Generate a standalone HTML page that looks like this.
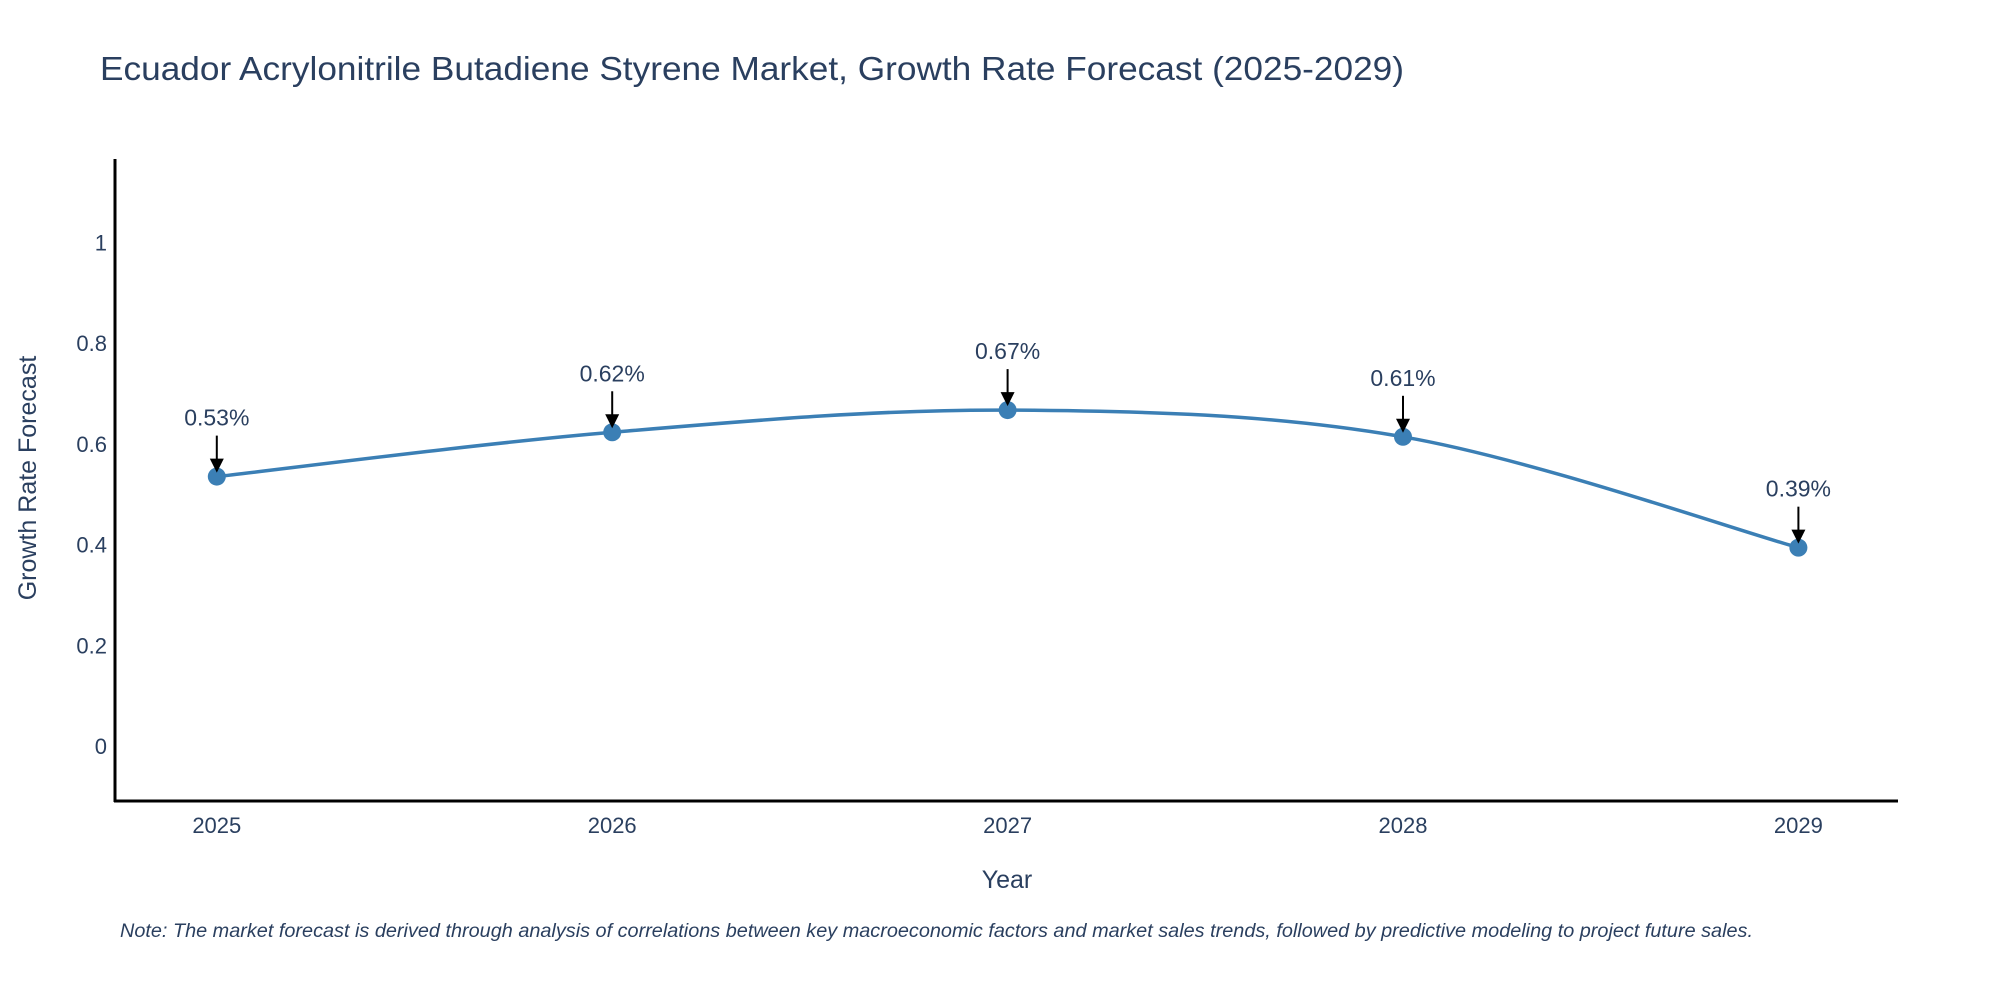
<!DOCTYPE html>
<html><head><meta charset="utf-8"><style>
html,body{margin:0;padding:0;background:#fff;}
svg{display:block;font-family:"Liberation Sans",sans-serif;}
</style></head><body>
<svg width="2000" height="1000" viewBox="0 0 2000 1000" id="chart">
<text x="100" y="80" font-size="33" fill="#2a3f5f" textLength="1304" lengthAdjust="spacingAndGlyphs">Ecuador Acrylonitrile Butadiene Styrene Market, Growth Rate Forecast (2025-2029)</text>
<g id="yticks"></g>
<g id="xticks"></g>
<path id="line" fill="none" stroke="#3b7fb5" stroke-width="3.5"/>
<g id="points"></g>
<g id="annots"></g>
<line x1="115" y1="159" x2="115" y2="802" stroke="#000" stroke-width="3"/>
<line x1="114" y1="801" x2="1898" y2="801" stroke="#000" stroke-width="3"/>
<text x="1007" y="888" font-size="25" fill="#2a3f5f" text-anchor="middle">Year</text>
<text transform="translate(36,478) rotate(-90)" font-size="25" fill="#2a3f5f" text-anchor="middle">Growth Rate Forecast</text>
<text x="120" y="937" font-size="19.5" font-style="italic" fill="#2a3f5f" textLength="1633" lengthAdjust="spacingAndGlyphs">Note: The market forecast is derived through analysis of correlations between key macroeconomic factors and market sales trends, followed by predictive modeling to project future sales.</text>
</svg>
<script>
const years = ["2025","2026","2027","2028","2029"];
const growth = [0.535, 0.623, 0.667, 0.614, 0.394];
const labels = ["0.53%","0.62%","0.67%","0.61%","0.39%"];
const yTicks = [0, 0.2, 0.4, 0.6, 0.8, 1];
const yTickLabels = ["0","0.2","0.4","0.6","0.8","1"];

const NS = "http://www.w3.org/2000/svg";
function xs(i){ return 216.8 + i * 395.4; }
function ys(v){ return 746.2 - v * 503.9; }
function mk(tag, attrs, parent){
  const e = document.createElementNS(NS, tag);
  for (const k in attrs) e.setAttribute(k, attrs[k]);
  parent.appendChild(e); return e;
}
const yt = document.getElementById('yticks');
yTicks.forEach((v,i)=>{
  const t = mk('text',{x:107,y:ys(v)+8,'font-size':22,fill:'#2a3f5f','text-anchor':'end'},yt);
  
  
  t.textContent = yTickLabels[i];
});
const xt = document.getElementById('xticks');
years.forEach((y,i)=>{
  const t = mk('text',{x:xs(i),y:833,'font-size':22,fill:'#2a3f5f','text-anchor':'middle'},xt);
  
  
  t.textContent = y;
});
// smooth line (Catmull-Rom)
const P = growth.map((v,i)=>[xs(i),ys(v)]);
let d = "M"+P[0][0]+","+P[0][1];
const tn = 0.5;
for (let i=0;i<P.length-1;i++){
  const p0=P[Math.max(0,i-1)], p1=P[i], p2=P[i+1], p3=P[Math.min(P.length-1,i+2)];
  const c1=[p1[0]+(p2[0]-p0[0])*tn/3, p1[1]+(p2[1]-p0[1])*tn/3];
  const c2=[p2[0]-(p3[0]-p1[0])*tn/3, p2[1]-(p3[1]-p1[1])*tn/3];
  d += " C"+c1[0]+","+c1[1]+" "+c2[0]+","+c2[1]+" "+p2[0]+","+p2[1];
}
document.getElementById('line').setAttribute('d', d);
const pts = document.getElementById('points');
const an = document.getElementById('annots');
P.forEach((p,i)=>{
  const c = mk('circle',{cx:p[0],cy:p[1],r:9,fill:'#3b7fb5'},pts);
  
  
  const l = mk('line',{x1:p[0],y1:p[1]-41,x2:p[0],y2:p[1]-16,stroke:'#000','stroke-width':2},an);
  
  
  const h = mk('polygon',{points:(p[0]-7)+","+(p[1]-18)+" "+(p[0]+7)+","+(p[1]-18)+" "+p[0]+","+(p[1]-4),fill:'#000'},an);
  
  
  const t = mk('text',{x:p[0],y:p[1]-51,'font-size':23,fill:'#2a3f5f','text-anchor':'middle'},an);
  
  
  t.textContent = labels[i];
});
</script>
</body></html>
